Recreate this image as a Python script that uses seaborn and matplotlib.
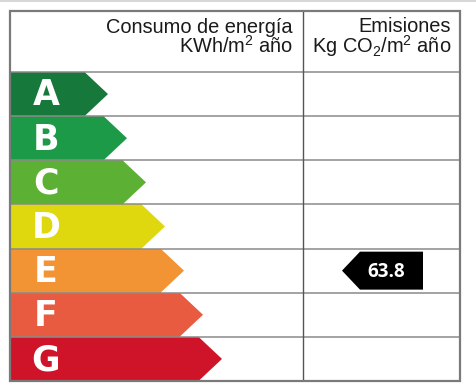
import matplotlib
matplotlib.use("Agg")
import matplotlib.pyplot as plt
from matplotlib.patches import Polygon, Rectangle
import seaborn as sns
import pandas as pd

# ---- data ----
ratings = ["A", "B", "C", "D", "E", "F", "G"]
bar_lengths = [75, 94, 113, 132, 151, 170, 189]
bar_colors = ["#17783c", "#1d9a47", "#5cb033", "#e0d80f", "#f29433", "#e85b40", "#cf1429"]
header_consumo = ["Consumo de energía", "KWh/m$^2$ año"]
header_emis = ["Emisiones", "Kg CO$_2$/m$^2$ año"]
emission_rating = "E"
emission_value = 63.8

sns.set_theme(style="white")
plt.rcParams["font.family"] = ["Liberation Sans", "DejaVu Sans"]
plt.rcParams["mathtext.fontset"] = "custom"
plt.rcParams["mathtext.rm"] = "Liberation Sans"
plt.rcParams["mathtext.it"] = "Liberation Sans"

W, H = 477, 392
fig = plt.figure(figsize=(W / 100, H / 100), dpi=100)
left, right, top, bottom = 10, 460, 11, 381
ax = fig.add_axes([left / W, 1 - bottom / H, (right - left) / W, (bottom - top) / H])

row_h = (bottom - top - 61) / 7.0
header_rows = 61 / row_h

df = pd.DataFrame({"rating": ratings, "len": bar_lengths})
sns.barplot(data=df, x="len", y="rating", hue="rating", palette=bar_colors,
            orient="h", width=1.0, legend=False, ax=ax, saturation=1, linewidth=0)

tip = 23
for p, c in zip(ax.patches, bar_colors):
    x1 = p.get_x() + p.get_width()
    y0 = p.get_y()
    h = p.get_height()
    ax.add_patch(Polygon([(x1 - 0.5, y0), (x1 + tip, y0 + h / 2), (x1 - 0.5, y0 + h)],
                         closed=True, facecolor=c, edgecolor="none", zorder=2))

for i, r in enumerate(ratings):
    ax.text(36, i + 0.03, r, color="white", fontsize=25, fontweight="bold",
            family="DejaVu Sans", ha="center", va="center", zorder=4)

col_div = 293
x_max = right - left
ax.set_xlim(0, x_max)
ax.set_ylim(6.5, -0.5 - header_rows)
ax.axis("off")

grid = "#8a8a8a"
for k in range(7):
    ax.axhline(k - 0.5, color=grid, lw=1.1, zorder=3)
ax.axvline(col_div, color="#555555", lw=1.0, zorder=3)
ax.add_patch(Rectangle((0, -0.5 - header_rows), x_max, 7 + header_rows, fill=False,
                       edgecolor="#7a7a7a", lw=1.6, zorder=5, clip_on=False))

# header text
y_top = -0.5 - header_rows
ax.text(col_div - 10, y_top + 42 / row_h, "\n".join(header_consumo), ha="right", va="baseline",
        multialignment="right", linespacing=0.88, fontsize=14.4, color="#1a1a1a")
ax.text(x_max - 9, y_top + 42 / row_h, "\n".join(header_emis), ha="right", va="baseline",
        multialignment="right", linespacing=0.88, fontsize=14.4, color="#1a1a1a")

# emission marker
ri = ratings.index(emission_rating)
hh = 0.43
bx0, bx1, btip = 350, 413, 332
ax.add_patch(Polygon([(btip, ri), (bx0, ri - hh), (bx1, ri - hh), (bx1, ri + hh), (bx0, ri + hh)],
                     closed=True, facecolor="black", edgecolor="none", zorder=4))
ax.text(376.5, ri + 0.02, f"{emission_value:.1f}", color="white", fontsize=13.5, fontweight="bold",
        family="Open Sans", ha="center", va="center", zorder=5)

fig.add_artist(plt.Line2D([0, 1], [1 - 0.8 / H, 1 - 0.8 / H], color="#cfcfcf", lw=1.2))

fig.savefig("out.png", dpi=100)
